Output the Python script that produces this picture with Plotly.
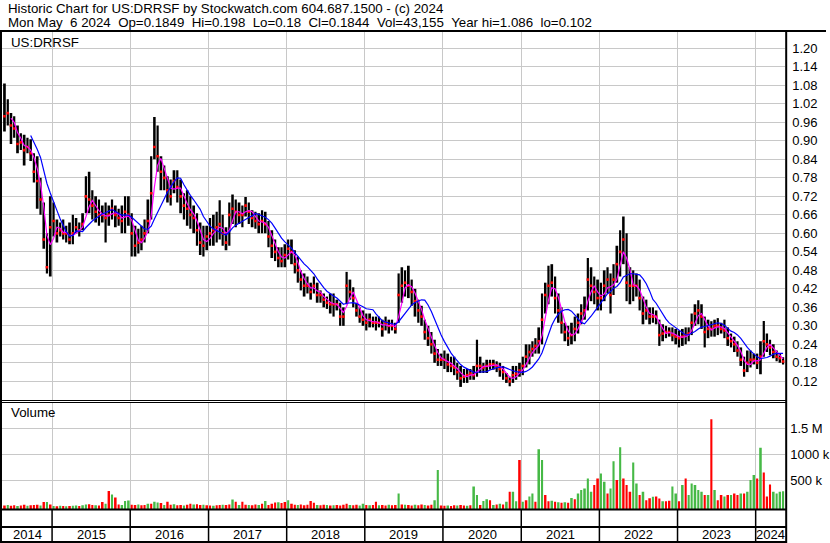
import numpy as np
import pandas as pd
import plotly.graph_objects as go

# ---------------- data (semi-monthly periods, May 2014 H2 .. May 2024 H1) ----------------
hi = [
    # 2014
    1.086, 1.035, 0.99, 0.98, 0.95, 0.925, 0.92, 0.91, 0.905, 0.86, 0.85, 0.78, 0.70, 0.60, 0.72,
    # 2015
    0.70, 0.645, 0.635, 0.645, 0.625, 0.635, 0.66, 0.65, 0.635, 0.665, 0.785, 0.80,
    0.74, 0.72, 0.71, 0.69, 0.70, 0.69, 0.71, 0.69, 0.68, 0.69, 0.72, 0.72,
    # 2016
    0.665, 0.625, 0.615, 0.625, 0.645, 0.71, 0.85, 0.977, 0.95, 0.85, 0.82, 0.785,
    0.775, 0.805, 0.805, 0.775, 0.73, 0.74, 0.72, 0.69, 0.665, 0.635, 0.625, 0.625,
    # 2017
    0.65, 0.66, 0.67, 0.707, 0.66, 0.62, 0.70, 0.726, 0.71, 0.70, 0.69, 0.718,
    0.70, 0.675, 0.67, 0.665, 0.675, 0.67, 0.64, 0.61, 0.58, 0.555, 0.555, 0.565,
    # 2018
    0.58, 0.58, 0.545, 0.525, 0.48, 0.47, 0.46, 0.44, 0.46, 0.44, 0.415, 0.405,
    0.395, 0.405, 0.405, 0.385, 0.375, 0.36, 0.475, 0.45, 0.425, 0.375, 0.36, 0.35,
    # 2019
    0.34, 0.34, 0.33, 0.33, 0.33, 0.32, 0.33, 0.32, 0.32, 0.31, 0.47, 0.49,
    0.48, 0.495, 0.45, 0.42, 0.385, 0.365, 0.32, 0.30, 0.28, 0.255, 0.225, 0.21,
    # 2020
    0.22, 0.21, 0.20, 0.20, 0.18, 0.17, 0.16, 0.16, 0.16, 0.17, 0.255, 0.20,
    0.18, 0.19, 0.19, 0.19, 0.185, 0.18, 0.17, 0.147, 0.135, 0.17, 0.17, 0.18,
    # 2021
    0.20, 0.24, 0.24, 0.25, 0.26, 0.295, 0.405, 0.44, 0.495, 0.50, 0.46, 0.405,
    0.36, 0.31, 0.30, 0.31, 0.33, 0.34, 0.37, 0.395, 0.52, 0.49, 0.46, 0.45,
    # 2022
    0.44, 0.48, 0.49, 0.47, 0.50, 0.56, 0.61, 0.655, 0.60, 0.49, 0.48, 0.47,
    0.45, 0.395, 0.385, 0.36, 0.36, 0.35, 0.32, 0.305, 0.30, 0.295, 0.295, 0.29,
    # 2023
    0.285, 0.29, 0.295, 0.295, 0.34, 0.37, 0.383, 0.37, 0.33, 0.32, 0.315, 0.32,
    0.325, 0.31, 0.32, 0.295, 0.275, 0.265, 0.25, 0.23, 0.20, 0.22, 0.22, 0.21,
    # 2024
    0.21, 0.25, 0.316, 0.275, 0.255, 0.24, 0.22, 0.21, 0.198,
]
lo = [
    0.93, 0.95, 0.89, 0.91, 0.86, 0.87, 0.82, 0.86, 0.835, 0.765, 0.68, 0.66, 0.55, 0.47, 0.46,
    0.59, 0.57, 0.59, 0.58, 0.57, 0.565, 0.565, 0.60, 0.59, 0.61, 0.665, 0.665,
    0.645, 0.635, 0.625, 0.635, 0.57, 0.625, 0.645, 0.62, 0.625, 0.60, 0.60, 0.625,
    0.525, 0.525, 0.535, 0.545, 0.57, 0.60, 0.645, 0.84, 0.80, 0.74, 0.74, 0.70,
    0.69, 0.73, 0.70, 0.665, 0.645, 0.625, 0.615, 0.60, 0.56, 0.53, 0.525, 0.545,
    0.56, 0.56, 0.57, 0.58, 0.56, 0.545, 0.56, 0.63, 0.62, 0.63, 0.62, 0.655,
    0.63, 0.62, 0.615, 0.60, 0.60, 0.60, 0.555, 0.52, 0.51, 0.49, 0.49, 0.49,
    0.515, 0.50, 0.47, 0.44, 0.415, 0.395, 0.405, 0.385, 0.405, 0.375, 0.375, 0.36,
    0.355, 0.34, 0.33, 0.35, 0.30, 0.30, 0.37, 0.385, 0.36, 0.33, 0.31, 0.30,
    0.285, 0.295, 0.295, 0.285, 0.295, 0.265, 0.285, 0.275, 0.285, 0.275, 0.31, 0.375,
    0.395, 0.39, 0.365, 0.33, 0.31, 0.30, 0.255, 0.235, 0.21, 0.18, 0.17, 0.17,
    0.16, 0.15, 0.15, 0.14, 0.125, 0.102, 0.115, 0.115, 0.125, 0.125, 0.135, 0.147,
    0.147, 0.147, 0.158, 0.158, 0.15, 0.135, 0.125, 0.115, 0.104, 0.115, 0.125, 0.135,
    0.14, 0.165, 0.175, 0.20, 0.21, 0.21, 0.24, 0.34, 0.37, 0.395, 0.34, 0.31,
    0.275, 0.25, 0.235, 0.24, 0.25, 0.275, 0.305, 0.32, 0.35, 0.38, 0.37, 0.35,
    0.35, 0.38, 0.405, 0.34, 0.40, 0.44, 0.46, 0.50, 0.38, 0.37, 0.38, 0.395,
    0.35, 0.305, 0.32, 0.305, 0.31, 0.305, 0.235, 0.25, 0.26, 0.265, 0.25, 0.24,
    0.23, 0.235, 0.24, 0.25, 0.27, 0.30, 0.305, 0.29, 0.23, 0.26, 0.265, 0.265,
    0.27, 0.275, 0.26, 0.235, 0.23, 0.215, 0.20, 0.17, 0.135, 0.15, 0.165, 0.175,
    0.16, 0.143, 0.20, 0.215, 0.205, 0.195, 0.185, 0.18, 0.175,
]
cl = [
    0.98, 0.99, 0.95, 0.94, 0.89, 0.895, 0.87, 0.88, 0.86, 0.80, 0.77, 0.71, 0.58, 0.49, 0.62,
    0.64, 0.60, 0.61, 0.60, 0.60, 0.58, 0.60, 0.62, 0.61, 0.63, 0.72, 0.71,
    0.69, 0.67, 0.66, 0.66, 0.65, 0.66, 0.68, 0.66, 0.65, 0.64, 0.67, 0.66,
    0.60, 0.56, 0.57, 0.58, 0.60, 0.64, 0.73, 0.88, 0.85, 0.80, 0.78, 0.74,
    0.72, 0.77, 0.75, 0.72, 0.69, 0.68, 0.66, 0.65, 0.61, 0.57, 0.56, 0.59,
    0.60, 0.61, 0.62, 0.63, 0.60, 0.57, 0.66, 0.68, 0.67, 0.66, 0.66, 0.69,
    0.67, 0.65, 0.64, 0.63, 0.64, 0.63, 0.59, 0.56, 0.54, 0.52, 0.51, 0.53,
    0.55, 0.54, 0.50, 0.48, 0.45, 0.43, 0.43, 0.41, 0.43, 0.40, 0.40, 0.385,
    0.375, 0.37, 0.37, 0.37, 0.33, 0.33, 0.43, 0.41, 0.39, 0.35, 0.33, 0.32,
    0.31, 0.32, 0.31, 0.31, 0.31, 0.29, 0.31, 0.30, 0.30, 0.29, 0.40, 0.43,
    0.44, 0.43, 0.41, 0.38, 0.35, 0.33, 0.28, 0.26, 0.24, 0.21, 0.19, 0.19,
    0.19, 0.175, 0.17, 0.165, 0.15, 0.13, 0.135, 0.14, 0.145, 0.14, 0.17, 0.17,
    0.165, 0.17, 0.175, 0.175, 0.17, 0.16, 0.15, 0.13, 0.12, 0.14, 0.145, 0.155,
    0.17, 0.20, 0.215, 0.225, 0.235, 0.25, 0.32, 0.40, 0.43, 0.44, 0.39, 0.35,
    0.31, 0.28, 0.26, 0.27, 0.29, 0.31, 0.34, 0.35, 0.45, 0.43, 0.41, 0.39,
    0.39, 0.43, 0.45, 0.40, 0.45, 0.50, 0.54, 0.58, 0.44, 0.43, 0.43, 0.43,
    0.39, 0.34, 0.35, 0.33, 0.33, 0.33, 0.27, 0.275, 0.28, 0.28, 0.27, 0.265,
    0.26, 0.265, 0.27, 0.275, 0.31, 0.34, 0.35, 0.33, 0.28, 0.29, 0.29, 0.30,
    0.30, 0.29, 0.285, 0.26, 0.25, 0.24, 0.22, 0.19, 0.155, 0.18, 0.19, 0.19,
    0.18, 0.20, 0.25, 0.24, 0.23, 0.215, 0.20, 0.195, 0.1844,
]
# volume in thousands of shares
vol_k = [
    30, 40, 25, 35, 20, 30, 45, 25, 35, 40, 45, 30, 95, 95, 50,
    20, 15, 25, 20, 15, 20, 25, 30, 20, 35, 50, 55, 40, 35, 30, 95, 60, 305, 240, 180, 50, 40, 115, 125,
    45, 40, 50, 35, 40, 60, 60, 100, 85, 75, 40, 100, 45, 55, 35, 40, 30, 45, 60, 50, 55, 40, 45, 35,
    30, 25, 35, 40, 45, 40, 50, 145, 100, 40, 100, 45, 40, 35, 50, 40, 60, 115, 40, 60, 85, 90, 75, 95,
    127, 60, 45, 40, 50, 35, 45, 115, 80, 40, 35, 45, 40, 30, 35, 40, 30, 45, 60, 40, 35, 45, 30, 60,
    40, 35, 40, 100, 35, 40, 30, 45, 35, 40, 260, 50, 45, 40, 30, 45, 35, 50, 40, 30, 45, 130, 705, 30,
    25, 30, 20, 35, 30, 40, 30, 25, 35, 390, 230, 40, 115, 150, 130, 40, 50, 60, 50, 100, 290, 290, 110, 895,
    100, 130, 200, 260, 100, 1100, 895, 230, 110, 120, 100, 90, 80, 90, 80, 170, 150, 260, 325, 355, 545, 290, 420, 545,
    640, 480, 260, 355, 875, 515, 1140, 545, 420, 290, 850, 450, 230, 290, 130, 165, 195, 200, 160, 110, 110, 120, 390, 260,
    110, 420, 545, 230, 450, 420, 325, 290, 230, 230, 1675, 325, 130, 230, 200, 230, 230, 260, 230, 260, 260, 290, 515, 610,
    545, 1130, 660, 200, 430, 290, 260, 290, 300,
]
# g = up period (green volume bar), r = down period (red volume bar)
vol_dir = list(
    "rgrrgrrgrrrgrgr"             # 2014
    "grgrgrggrggrrgrrgrgrrggg"    # 2015
    "rrgrrgrggrgrrgrrgrrgrrgr"    # 2016
    "rgrrgrrgrgrrgrrgrgrrrgrr"    # 2017
    "grrgrrrrrgrrgrgrrrrgrrgg"    # 2018
    "rgrrgrrgrrgrgrrgrrgrrggr"    # 2019
    "rgrrgrrgrggrggrgrgrgrggr"    # 2020
    "grggrggrrgrgrgrgrgggggrr"    # 2021
    "ggrggrgrrrggrgrrgrrgrrgg"    # 2022
    "rgrgggggrgrgrrgrgrrgrggg"    # 2023
    "rgrrrgggg"                   # 2024
)
years = [2014, 2015, 2016, 2017, 2018, 2019, 2020, 2021, 2022, 2023, 2024]
price_ticks = [0.12, 0.18, 0.24, 0.30, 0.36, 0.42, 0.48, 0.54, 0.60, 0.66,
               0.72, 0.78, 0.84, 0.90, 0.96, 1.02, 1.08, 1.14, 1.20]
vol_ticks = [500e3, 1000e3, 1500e3]
vol_tick_text = ["500 k", "1000 k", "1.5 M"]

title1 = "Historic Chart for US:DRRSF by Stockwatch.com 604.687.1500 - (c) 2024"
nb = "\u00a0"
title2 = (f"Mon May{nb}{nb}6 2024{nb}{nb}Op=0.1849{nb}{nb}Hi=0.198{nb}{nb}Lo=0.18{nb}{nb}"
          f"Cl=0.1844{nb}{nb}Vol=43,155{nb}{nb}Year hi=1.086{nb}{nb}lo=0.102")

# ---------------- derived ----------------
n = len(hi)
assert len(lo) == n and len(cl) == n and len(vol_k) == n and len(vol_dir) == n
starts = pd.date_range("2014-05-15", periods=n + 1, freq="SMS")
mids = starts[:-1] + (starts[1:] - starts[:-1]) / 2
dur_ms = np.array((starts[1:] - starts[:-1]).total_seconds() * 1000.0)
hi_a, lo_a, cl_a = np.array(hi), np.array(lo), np.array(cl)
vol = np.array(vol_k) * 1000.0
ma_fast = pd.Series(cl).rolling(3).mean()
ma_slow = pd.Series(cl).rolling(9).mean()

W, H = 830, 543
def fx(x):
    return x / W
def fy(y):
    return 1 - y / H

x_start, x_end = pd.Timestamp("2014-05-12"), pd.Timestamp("2024-05-18")
year_bounds = [pd.Timestamp(f"{y}-01-01") for y in years[1:]]

GRID = "#c8c8c8"
FONT = "Liberation Sans, Arial, sans-serif"
GREEN, RED = "#46b946", "#ff0000"

vmin = -38e3
vmax = 2.004e6

fig = go.Figure()
fig.add_trace(go.Bar(x=mids, y=hi_a - lo_a, base=lo_a, width=dur_ms * 0.74,
                     marker=dict(color="black", line=dict(width=0)),
                     xaxis="x", yaxis="y", hoverinfo="skip"))
fig.add_trace(go.Scatter(x=mids, y=cl_a, mode="markers",
                         marker=dict(symbol="square", size=2.6, color=RED, line=dict(width=0)),
                         xaxis="x", yaxis="y", hoverinfo="skip"))
fig.add_trace(go.Scatter(x=mids, y=ma_fast, mode="lines",
                         line=dict(color="#ff00ff", width=1.2), xaxis="x", yaxis="y",
                         hoverinfo="skip"))
fig.add_trace(go.Scatter(x=mids, y=ma_slow, mode="lines",
                         line=dict(color="#0000ff", width=1.2), xaxis="x", yaxis="y",
                         hoverinfo="skip"))
fig.add_trace(go.Bar(x=mids, y=vol - vmin, base=vmin, width=dur_ms * 0.7,
                     marker=dict(color=[GREEN if d == "g" else RED for d in vol_dir],
                                 line=dict(width=0)),
                     xaxis="x2", yaxis="y2", hoverinfo="skip"))

axis_common = dict(showline=False, zeroline=False, ticks="", fixedrange=True)
fig.update_layout(
    width=W, height=H, margin=dict(l=0, r=0, t=0, b=0),
    paper_bgcolor="white", plot_bgcolor="white", showlegend=False, barmode="overlay",
    font=dict(family=FONT, size=13, color="black"),
    xaxis=dict(domain=[fx(2), fx(789)], range=[x_start, x_end], type="date",
               tickvals=year_bounds, showticklabels=False, showgrid=True,
               gridcolor=GRID, gridwidth=1, anchor="y", **axis_common),
    xaxis2=dict(domain=[fx(2), fx(789)], range=[x_start, x_end], type="date",
                matches="x", tickvals=year_bounds, showticklabels=False, showgrid=True,
                gridcolor=GRID, gridwidth=1, anchor="y2", **axis_common),
    yaxis=dict(domain=[fy(400), fy(32)], range=[0.0595, 1.253], side="right",
               tickvals=price_ticks, tickformat=".2f", showgrid=True, gridcolor=GRID,
               gridwidth=1, ticklabelstandoff=6, anchor="x",
               tickfont=dict(family=FONT, size=13, color="black"), **axis_common),
    yaxis2=dict(domain=[fy(509), fy(402)], range=[vmin, vmax], side="right",
                tickvals=vol_ticks, ticktext=vol_tick_text, showgrid=True, gridcolor=GRID,
                gridwidth=1, ticklabelstandoff=4, anchor="x2",
                tickfont=dict(family=FONT, size=13, color="black"), **axis_common),
)

ann = [
    dict(x=fx(6), y=fy(9), text=title1),
    dict(x=fx(6), y=fy(22.5), text=title2),
    dict(x=fx(9), y=fy(42), text="US:DRRSF"),
    dict(x=fx(9), y=fy(413), text="Volume"),
]
annotations = [dict(xref="paper", yref="paper", xanchor="left", yanchor="middle",
                    showarrow=False, font=dict(family=FONT, size=13.3, color="black"), **a)
               for a in ann]
# year labels centred in each (visible) year segment
for y in years:
    a = max(pd.Timestamp(f"{y}-01-01"), x_start)
    b = min(pd.Timestamp(f"{y + 1}-01-01"), x_end)
    annotations.append(dict(xref="x", yref="paper", x=a + (b - a) / 2, y=fy(534),
                            text=str(y), showarrow=False, xanchor="center", yanchor="middle",
                            font=dict(family=FONT, size=13, color="black")))
fig.update_layout(annotations=annotations)

shapes = []
def hline(y, x0, x1, w):
    shapes.append(dict(type="line", xref="paper", yref="paper", x0=fx(x0), x1=fx(x1),
                       y0=fy(y), y1=fy(y), line=dict(color="black", width=w)))
def vline(x, y0, y1, w):
    shapes.append(dict(type="line", xref="paper", yref="paper", x0=fx(x), x1=fx(x),
                       y0=fy(y0), y1=fy(y1), line=dict(color="black", width=w)))
hline(31, 0, 830, 2)
vline(1, 31, 543, 2)
vline(790, 31, 543, 2)
hline(400.5, 0, 790, 1)
hline(402.5, 0, 790, 1)
hline(509.5, 0, 790, 2)
hline(527, 0, 790, 2)
hline(542, 0, 790, 2)
for d in year_bounds:
    shapes.append(dict(type="line", xref="x", yref="paper", x0=d, x1=d,
                       y0=fy(510), y1=fy(541), line=dict(color="black", width=1.5)))
fig.update_layout(shapes=shapes)

fig.write_html("out.html",
               config={"displayModeBar": False, "staticPlot": True},
               post_script="document.body.style.margin='0px';"
                           "document.body.style.padding='0px';"
                           "document.body.style.overflow='hidden';")
